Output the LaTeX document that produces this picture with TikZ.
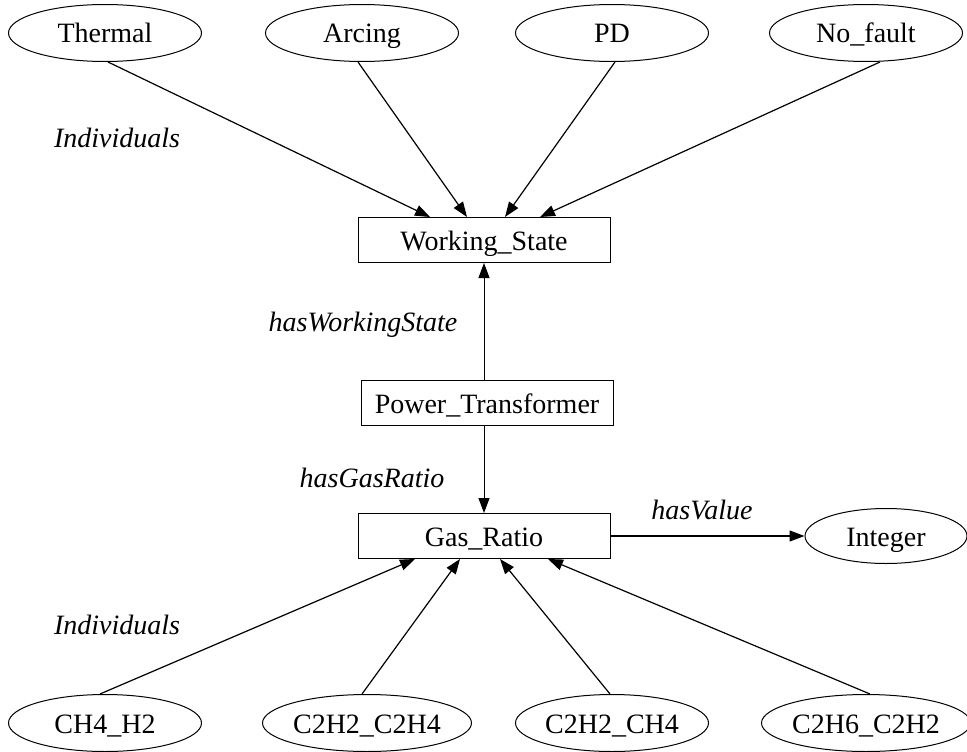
\documentclass[tikz,border=0pt]{standalone}
\usepackage{fontspec}
\setmainfont{Liberation Serif}
\usetikzlibrary{shapes.geometric,arrows.meta}
\begin{document}
\begin{tikzpicture}[x=1pt,y=-1pt,
  every node/.style={font=\fontsize{28}{33}\selectfont},
  indiv/.style={draw,ellipse,line width=1pt,inner sep=0pt,text height=22pt,text depth=2pt,
    minimum width=193pt,minimum height=57pt},
  cls/.style={draw,rectangle,line width=1pt,inner sep=0pt,text height=22pt,text depth=2pt,
    minimum width=252pt,minimum height=45pt},
  prop/.style={font=\fontsize{28}{33}\selectfont\itshape},
  arr/.style={line width=1.2pt,-{Triangle[length=15pt,width=11pt]}}]
\useasboundingbox (0,0) rectangle (967,752);

% top row of individuals
\node[indiv] (thermal) at (105,33) {Thermal};
\node[indiv] (arcing)  at (362,33) {Arcing};
\node[indiv] (pd)      at (612,33) {PD};
\node[indiv] (nofault) at (866,33) {No\_fault};

% classes
\node[cls] (ws) at (484,240) {Working\_State};
\node[cls] (pt) at (487,403) {Power\_Transformer};
\node[cls] (gr) at (484,536) {Gas\_Ratio};
\node[indiv,minimum width=162pt,minimum height=55pt] (int) at (886,536) {Integer};

% bottom row of individuals
\node[indiv] (ch4h2)    at (105,723) {CH4\_H2};
\node[indiv] (c2h2c2h4) at (367,723) {C2H2\_C2H4};
\node[indiv] (c2h2ch4)  at (612,723) {C2H2\_CH4};
\node[indiv] (c2h6c2h2) at (866,723) {C2H6\_C2H2};

% labels
\node[prop] (ind1) at (117,138) {Individuals};
\node[prop] (ind2) at (117,625) {Individuals};
\node[prop] (lws)  at (363,325) {hasWorkingState};
\node[prop] (lgr)  at (372,478) {hasGasRatio};
\node[prop] (lval) at (702,510) {hasValue};

% individuals of Working_State
\draw[arr] ([xshift=3pt]thermal.south) -- ([xshift=-54pt]ws.north);
\draw[arr] ([xshift=-4pt]arcing.south) -- ([xshift=-17pt]ws.north);
\draw[arr] ([xshift=3pt]pd.south) -- ([xshift=21pt]ws.north);
\draw[arr] ([xshift=14pt]nofault.south) -- ([xshift=56pt]ws.north);

% object properties
\draw[arr,line width=1pt] (pt.north -| ws.south) -- (ws.south);
\draw[arr,line width=1pt] (pt.south -| gr.north) -- (gr.north);
\draw[arr] (gr.east) -- (int.west);

% individuals of Gas_Ratio
\draw[arr] ([xshift=-5pt]ch4h2.north) -- ([xshift=-69pt]gr.south);
\draw[arr] ([xshift=-5pt]c2h2c2h4.north) -- ([xshift=-24pt]gr.south);
\draw[arr] ([xshift=-2pt]c2h2ch4.north) -- ([xshift=16pt]gr.south);
\draw[arr] ([xshift=4pt]c2h6c2h2.north) -- ([xshift=64pt]gr.south);
\end{tikzpicture}
\end{document}
